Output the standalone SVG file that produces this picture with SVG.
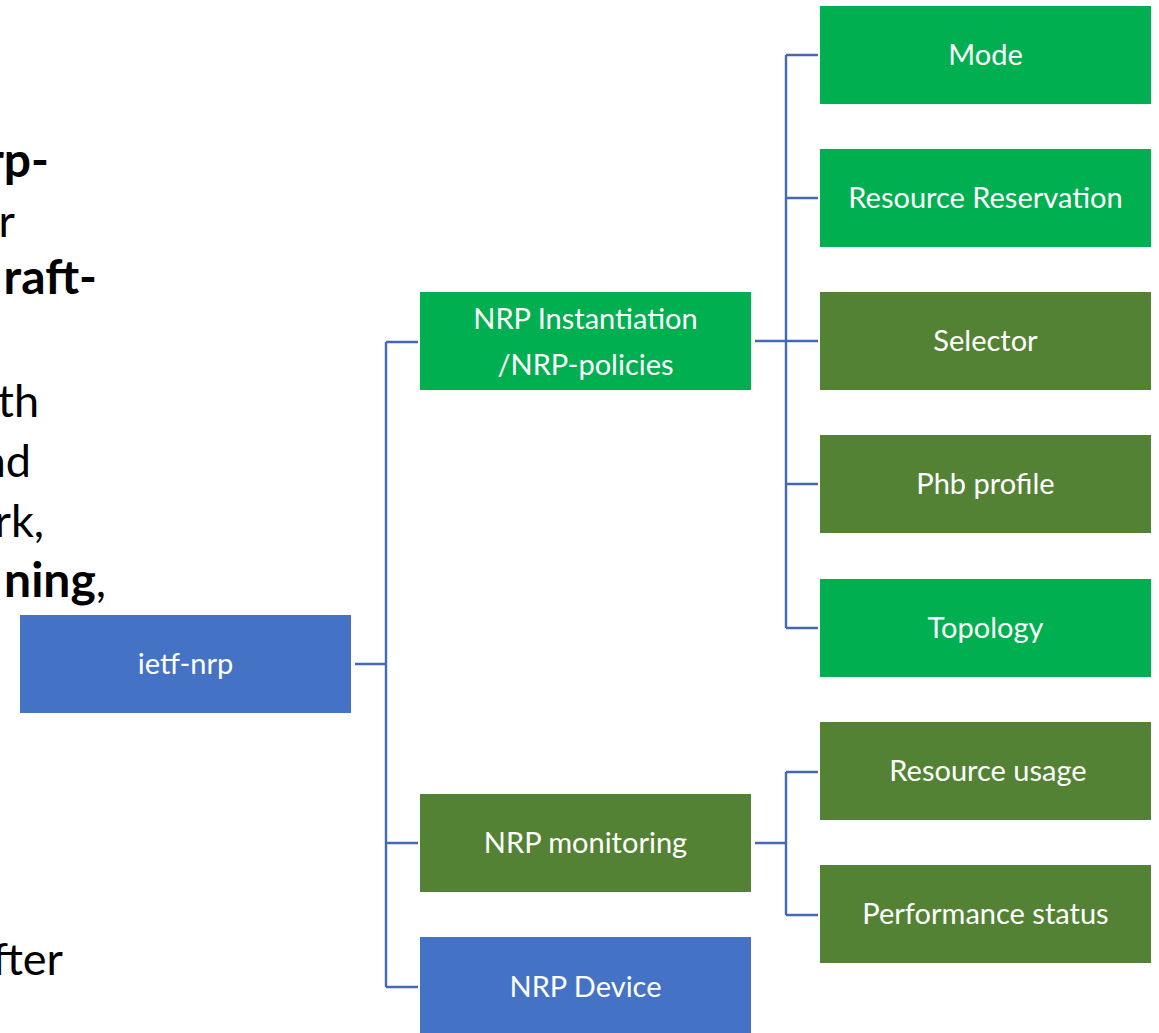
<svg xmlns="http://www.w3.org/2000/svg" width="1159" height="1033" viewBox="0 0 1159 1033">
<style>
.blue{fill:#4472C4}
.green{fill:#00B050}
.olive{fill:#548235}
.lbl{font-family:Lato,"Liberation Sans",sans-serif;font-size:29px;fill:#FFFFFF;text-anchor:middle;dominant-baseline:central}
.bg{font-family:Lato,"Liberation Sans",sans-serif;font-size:45px;fill:#000000;text-anchor:end}
.b{font-weight:bold;font-size:48px}
.conn{fill:none;stroke:#4369B6;stroke-width:2.4}
</style>
<rect width="1159" height="1033" fill="#FFFFFF"/>
<g id="background-text">
<text class="bg b" x="49" y="177">rp-</text>
<text class="bg" x="15" y="237">r</text>
<text class="bg b" x="97" y="294">raft-</text>
<text class="bg" x="39" y="417">th</text>
<text class="bg" x="31" y="477">nd</text>
<text class="bg" x="44" y="537">rk,</text>
<text class="bg" x="106" y="597"><tspan class="b">ning</tspan>,</text>
<text class="bg" x="63" y="975">fter</text>
</g>
<g id="connectors">
<path class="conn" d="M355 664H386M386 342V987M386 342H418M386 843H418M386 987H418"/>
<path class="conn" d="M755 341H818M786 55V628M786 55H818M786 198H818M786 484H818M786 628H818"/>
<path class="conn" d="M755 843H786M786 772V915M786 772H818M786 915H818"/>
</g>
<g id="ietf-nrp"><rect class="blue" x="20" y="615" width="331" height="98"/><text class="lbl" x="185.5" y="662">ietf-nrp</text></g>
<g id="nrp-instantiation"><rect class="green" x="420" y="292" width="331" height="98"/><text class="lbl" x="585.5" y="317">NRP Instantiation</text><text class="lbl" x="585.5" y="363">/NRP-policies</text></g>
<g id="nrp-monitoring"><rect class="olive" x="420" y="794" width="331" height="98"/><text class="lbl" x="585.5" y="841">NRP monitoring</text></g>
<g id="nrp-device"><rect class="blue" x="420" y="937" width="331" height="98"/><text class="lbl" x="585.5" y="985">NRP Device</text></g>
<g id="mode"><rect class="green" x="820" y="6" width="331" height="98"/><text class="lbl" x="985.5" y="53">Mode</text></g>
<g id="resource-reservation"><rect class="green" x="820" y="149" width="331" height="98"/><text class="lbl" x="985.5" y="196">Resource Reservation</text></g>
<g id="selector"><rect class="olive" x="820" y="292" width="331" height="98"/><text class="lbl" x="985.5" y="339">Selector</text></g>
<g id="phb-profile"><rect class="olive" x="820" y="435" width="331" height="98"/><text class="lbl" x="985.5" y="482">Phb profile</text></g>
<g id="topology"><rect class="green" x="820" y="579" width="331" height="98"/><text class="lbl" x="985.5" y="626">Topology</text></g>
<g id="resource-usage"><rect class="olive" x="820" y="722" width="331" height="98"/><text class="lbl" x="988" y="769">Resource usage</text></g>
<g id="performance-status"><rect class="olive" x="820" y="865" width="331" height="98"/><text class="lbl" x="985.5" y="912">Performance status</text></g>
</svg>
